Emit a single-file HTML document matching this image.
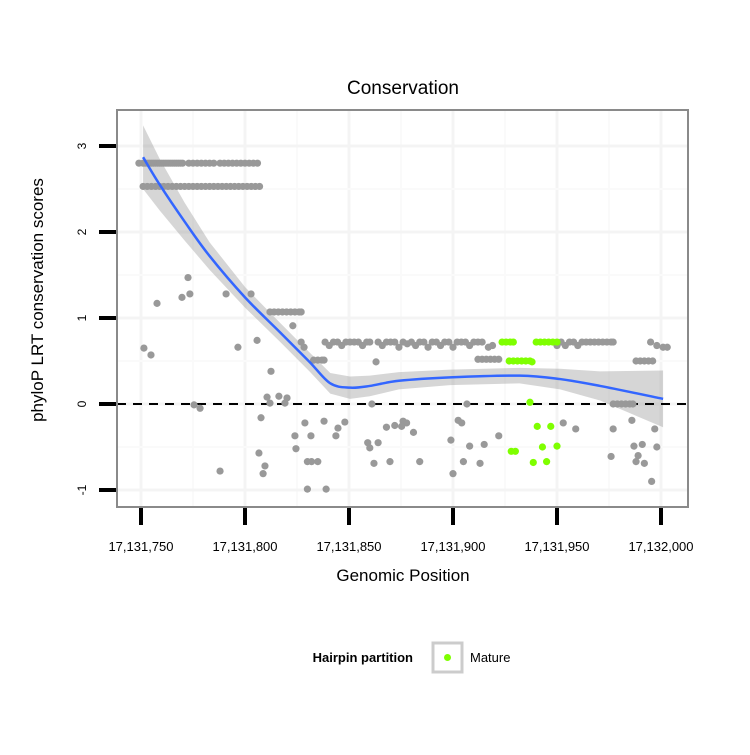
<!DOCTYPE html>
<html><head><meta charset="utf-8"><style>
body{margin:0;background:#fff}
svg text{font-family:"Liberation Sans",sans-serif}
</style></head><body>
<svg id="chart" width="750" height="750" viewBox="0 0 750 750">
<rect width="750" height="750" fill="#fff"/>
<g id="grid"></g>
<g id="band"></g>
<line x1="117" x2="688" y1="404" y2="404" stroke="#000" stroke-width="2" stroke-dasharray="9,7"/>
<g id="pts"></g>
<g id="curve"></g>
<rect x="117" y="110" width="571" height="397" fill="none" stroke="#8a8a8a" stroke-width="2"/>
<g id="axes"></g>
<text x="403" y="94" text-anchor="middle" font-size="19">Conservation</text>
<text x="403" y="581" text-anchor="middle" font-size="17">Genomic Position</text>
<text transform="translate(43,300) rotate(-90)" text-anchor="middle" font-size="17">phyloP LRT conservation scores</text>
<g>
<text x="413" y="662" text-anchor="end" font-size="13" font-weight="bold">Hairpin partition</text>
<rect x="433" y="643" width="29" height="29" fill="#fff" stroke="#ccc" stroke-width="3"/>
<circle cx="447.5" cy="657.5" r="3.5" fill="#7fff00"/>
<text x="470" y="662" font-size="13">Mature</text>
</g>
</svg>
<script>
// positions are offsets from 17,131,700
const grayPos=[749,751,752,753,754,755,756,757,758,759,760,761,762,763,764,765,766,767,768,769,770,773,775,777,779,781,783,785,788,790,792,794,796,798,800,802,804,806,
751,753,755,757,759,761,763,765,767,769,771,773,775,777,779,781,783,785,787,789,791,793,795,797,799,801,803,805,807,
772.6,773.5,769.7,757.7,751.4,754.8,790.9,802.9,796.6,805.8,812.5,812,814,816,818,820,822,824,826,827,823,827,828.4,833,835,837,838,
775.5,778.4,810.6,812,816.3,820.2,819.2,807.7,806.7,809.6,808.7,788,828.8,824,831.7,824.5,838,848,844.7,843.7,830,832,835,830,839,861,863,859,860,864,862,869.7,868,872,876,
838.5,840.5,842.5,844.5,846.5,848.5,850.5,852.5,854.5,856.5,858.5,860,864,866,868,870,872,874,876,878,880,882,884,886,888,890,892,894,896,898,900,902,904,906,908,910,912,914,917,919,
912,914,916,918,920,922,950,952,954,956,958,960,962,964,966,968,970,972,974,976,977,995,998,1001,1003,988,990,992,994,996,906.7,977,979,981,983,985,986.5,
877.7,875.3,881,902.5,904.2,899,908,915,922,884,905,913,900,953,959,977,986,997,987,991,998,976,989,988,992,995.5];
const grayVal=[2.8,2.8,2.8,2.8,2.8,2.8,2.8,2.8,2.8,2.8,2.8,2.8,2.8,2.8,2.8,2.8,2.8,2.8,2.8,2.8,2.8,2.8,2.8,2.8,2.8,2.8,2.8,2.8,2.8,2.8,2.8,2.8,2.8,2.8,2.8,2.8,2.8,2.8,
2.53,2.53,2.53,2.53,2.53,2.53,2.53,2.53,2.53,2.53,2.53,2.53,2.53,2.53,2.53,2.53,2.53,2.53,2.53,2.53,2.53,2.53,2.53,2.53,2.53,2.53,2.53,2.53,2.53,
1.47,1.28,1.24,1.17,0.65,0.57,1.28,1.28,0.66,0.74,0.38,1.07,1.07,1.07,1.07,1.07,1.07,1.07,1.07,1.07,0.91,0.72,0.66,0.51,0.51,0.51,0.51,
-0.01,-0.05,0.08,0.01,0.09,0.07,0.01,-0.16,-0.57,-0.72,-0.81,-0.78,-0.22,-0.37,-0.37,-0.52,-0.2,-0.21,-0.28,-0.37,-0.67,-0.67,-0.67,-0.99,-0.99,0,0.49,-0.45,-0.51,-0.45,-0.69,-0.67,-0.27,-0.25,-0.2,
0.72,0.68,0.72,0.72,0.68,0.72,0.72,0.72,0.72,0.68,0.72,0.72,0.72,0.68,0.72,0.72,0.72,0.66,0.72,0.7,0.72,0.68,0.72,0.72,0.66,0.72,0.72,0.68,0.72,0.72,0.66,0.72,0.72,0.72,0.68,0.72,0.72,0.72,0.66,0.68,
0.52,0.52,0.52,0.52,0.52,0.52,0.68,0.72,0.68,0.72,0.72,0.68,0.72,0.72,0.72,0.72,0.72,0.72,0.72,0.72,0.72,0.72,0.68,0.66,0.66,0.5,0.5,0.5,0.5,0.5,0,0,0,0,0,0,0,
-0.22,-0.26,-0.33,-0.19,-0.22,-0.42,-0.49,-0.47,-0.37,-0.67,-0.67,-0.69,-0.81,-0.22,-0.29,-0.29,-0.19,-0.29,-0.49,-0.47,-0.5,-0.61,-0.6,-0.67,-0.69,-0.9];
const greenPos=[923.6,925.5,927.5,929,940,942,944,946,948,950,927,929,931,933,935,937,938,937,940.5,947,928,930,943,950,938.6,945];
const greenVal=[0.72,0.72,0.72,0.72,0.72,0.72,0.72,0.72,0.72,0.72,0.5,0.5,0.5,0.5,0.5,0.5,0.49,0.02,-0.26,-0.26,-0.55,-0.55,-0.5,-0.49,-0.68,-0.67];
const fitPos=[751,759,771,783,800,817,831,841,850.5,860,874,898.5,932,951.5,970.7,1001];
const fitVal=[2.87,2.55,2.12,1.72,1.24,0.83,0.49,0.24,0.19,0.21,0.27,0.31,0.33,0.29,0.21,0.06];
const fitSe=[0.37,0.3,0.22,0.16,0.12,0.11,0.11,0.12,0.13,0.12,0.1,0.09,0.09,0.12,0.17,0.33];
const xTicks=[750,800,850,900,950,1000];
const xTickLabels=["17,131,750","17,131,800","17,131,850","17,131,900","17,131,950","17,132,000"];
const yTicks=[-1,0,1,2,3];
const yTickLabels=["-1","0","1","2","3"];

const NS="http://www.w3.org/2000/svg";
const X=p=>141+(p-750)*2.08;
const Y=v=>404-v*86;
function mk(tag,attrs,parent){const e=document.createElementNS(NS,tag);for(const k in attrs)e.setAttribute(k,attrs[k]);parent.appendChild(e);return e;}
const grid=document.getElementById('grid');
for(let p=725;p<=1025;p+=25){const x=X(p);if(x<118||x>687)continue;
 const g=mk('line',{x1:x,x2:x,y1:110,y2:507,stroke:p%50===0?'#f4f4f4':'#fafafa','stroke-width':p%50===0?3:2},grid);
 
 }
for(let v=-1.5;v<=3.5;v+=0.5){const y=Y(v);if(y<111||y>506)continue;
 const g=mk('line',{x1:117,x2:688,y1:y,y2:y,stroke:Number.isInteger(v)?'#f4f4f4':'#fafafa','stroke-width':Number.isInteger(v)?3:2},grid);
 
 }
let up='',lo='';
fitPos.forEach((p,i)=>{up+=(i?'L':'M')+X(p)+','+Y(fitVal[i]+fitSe[i]);});
for(let i=fitPos.length-1;i>=0;i--)lo+='L'+X(fitPos[i])+','+Y(fitVal[i]-fitSe[i]);
const band=mk('path',{d:up+lo+'Z',fill:'#999','fill-opacity':0.4},document.getElementById('band'));


const pts=document.getElementById('pts');
grayPos.forEach((p,i)=>{const c=mk('circle',{cx:X(p),cy:Y(grayVal[i]),r:3.6,fill:'#999'},pts);
 
 });
greenPos.forEach((p,i)=>{const c=mk('circle',{cx:X(p),cy:Y(greenVal[i]),r:3.6,fill:'#7fff00'},pts);
 
 });
const P=fitPos.map((p,i)=>[X(p),Y(fitVal[i])]);
let d='M'+P[0];
for(let i=0;i<P.length-1;i++){const p0=P[Math.max(0,i-1)],p1=P[i],p2=P[i+1],p3=P[Math.min(P.length-1,i+2)];
 d+='C'+(p1[0]+(p2[0]-p0[0])/6)+','+(p1[1]+(p2[1]-p0[1])/6)+' '+(p2[0]-(p3[0]-p1[0])/6)+','+(p2[1]-(p3[1]-p1[1])/6)+' '+p2[0]+','+p2[1];}
const cv=mk('path',{d:d,fill:'none',stroke:'#3366ff','stroke-width':2.5},document.getElementById('curve'));


const ax=document.getElementById('axes');
xTicks.forEach((p,i)=>{const t=mk('line',{x1:X(p),x2:X(p),y1:508,y2:525,stroke:'#000','stroke-width':4},ax);
 
 
 const l=mk('text',{x:X(p),y:551,'text-anchor':'middle','font-size':13},ax);l.textContent=xTickLabels[i];
 
 });
yTicks.forEach((v,i)=>{const t=mk('line',{x1:99,x2:116,y1:Y(v),y2:Y(v),stroke:'#000','stroke-width':4},ax);
 
 
 const l=mk('text',{transform:'translate(86,'+Y(v)+') rotate(-90)','text-anchor':'middle','font-size':12},ax);l.textContent=yTickLabels[i];
 
 });
</script>
</body></html>
